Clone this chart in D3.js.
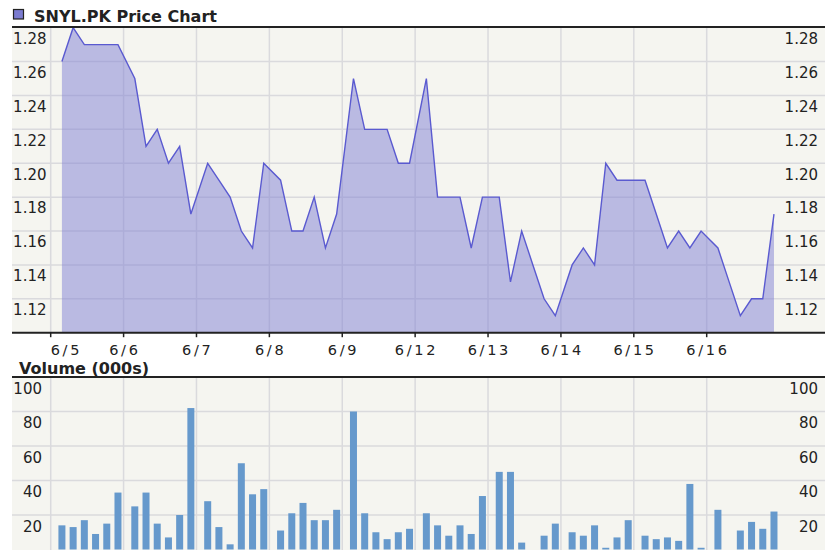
<!DOCTYPE html>
<html>
<head>
<meta charset="utf-8">
<script src="https://cdn.jsdelivr.net/npm/d3@7"></script>
<style>
  html, body { margin: 0; padding: 0; background: #fff; }
  svg { display: block; }
  .tick-label { font-family: "DejaVu Sans", Verdana, sans-serif; font-size: 15px; fill: #222; }
  .date-label { font-family: "DejaVu Sans", Verdana, sans-serif; font-size: 14.5px; fill: #222; letter-spacing: 2.7px; }
  .panel-title { font-family: "DejaVu Sans", Verdana, sans-serif; font-size: 16px; font-weight: bold; fill: #222; }
</style>
</head>
<body>
<div id="chart"></div>
<script>
// trading days shown on the x axis
const dates = ['6/5', '6/6', '6/7', '6/8', '6/9', '6/12', '6/13', '6/14', '6/15', '6/16'];
// hourly sample times within each session (session runs 9:30 - 16:00)
const hours = [10.5, 11.5, 12.5, 13.5, 14.5, 15.5];

// hourly closing prices, 6 per day
const prices = [
  1.26, 1.28, 1.27, 1.27, 1.27, 1.27,   // 6/5
  1.25, 1.21, 1.22, 1.20, 1.21, 1.17,   // 6/6
  1.20, 1.19, 1.18, 1.16, 1.15, 1.20,   // 6/7
  1.19, 1.16, 1.16, 1.18, 1.15, 1.17,   // 6/8
  1.25, 1.22, 1.22, 1.22, 1.20, 1.20,   // 6/9
  1.25, 1.18, 1.18, 1.18, 1.15, 1.18,   // 6/12
  1.18, 1.13, 1.16, 1.14, 1.12, 1.11,   // 6/13
  1.14, 1.15, 1.14, 1.20, 1.19, 1.19,   // 6/14
  1.19, 1.17, 1.15, 1.16, 1.15, 1.16,   // 6/15
  1.15, 1.13, 1.11, 1.12, 1.12, 1.17    // 6/16
];

// hourly volume, thousands of shares
const volumes = [
  14, 13, 17, 9, 15, 33,
  25, 33, 15, 7, 20, 82,
  28, 13, 3, 50, 32, 35,
  11, 21, 27, 17, 17, 23,
  80, 21, 10, 6, 10, 12,
  21, 14, 8, 14, 9, 31,
  45, 45, 4, 0, 8, 15,
  10, 8, 14, 1, 7, 17,
  8, 6, 7, 5, 38, 1,
  23, 0, 11, 16, 12, 22
];

const priceTicks = [1.12, 1.14, 1.16, 1.18, 1.20, 1.22, 1.24, 1.26, 1.28];
const volumeTicks = [20, 40, 60, 80, 100];

const W = 825, H = 550;
const sessionLen = 6.5;

// build point list: t = trading hours since first open
const points = prices.map((p, i) => {
  const day = Math.floor(i / hours.length);
  const h = hours[i % hours.length];
  return { t: day * sessionLen + (h - 9.5), price: p, volume: volumes[i] };
});

const svg = d3.select('#chart').append('svg')
  .attr('width', W).attr('height', H);

const left = 12, right = W;
const x = d3.scaleLinear()
  .domain([0, (dates.length - 1) * sessionLen])
  .range([50.7, 706.7]);

const yP = d3.scaleLinear().domain([1.10, 1.28]).range([332.7, 27.7]);
const yV = d3.scaleLinear().domain([0, 100]).range([549.5, 377]);

const gridColor = '#dadadd';
const bgColor = '#f5f5f0';

// ---------- price panel ----------
const pTop = yP(1.28), pBot = yP(1.10);
svg.append('rect').attr('x', left).attr('y', pTop).attr('width', right - left).attr('height', pBot - pTop)
  .attr('fill', bgColor);

svg.append('g').selectAll('line').data(priceTicks.slice(0, -1)).join('line')
  .attr('x1', left).attr('x2', right)
  .attr('y1', d => yP(d)).attr('y2', d => yP(d))
  .attr('stroke', gridColor).attr('stroke-width', 1.5);

svg.append('g').selectAll('line').data(dates).join('line')
  .attr('x1', (d, i) => x(i * sessionLen)).attr('x2', (d, i) => x(i * sessionLen))
  .attr('y1', pTop).attr('y2', pBot)
  .attr('stroke', gridColor).attr('stroke-width', 1.5);

const area = d3.area().x(d => x(d.t)).y0(pBot).y1(d => yP(d.price));
const line = d3.line().x(d => x(d.t)).y(d => yP(d.price));

svg.append('path').datum(points).attr('d', area)
  .attr('fill', '#7f7fd4').attr('fill-opacity', 0.5);
svg.append('path').datum(points).attr('d', line)
  .attr('fill', 'none').attr('stroke', '#5a5ad0').attr('stroke-width', 1.4);

// price labels, both sides, drawn just under each grid line
const pLabels = svg.append('g');
pLabels.selectAll('text.l').data(priceTicks).join('text')
  .attr('class', 'tick-label l')
  .attr('x', 46.5).attr('y', d => yP(d) + 16.3)
  .attr('text-anchor', 'end')
  .text(d => d.toFixed(2));
pLabels.selectAll('text.r').data(priceTicks).join('text')
  .attr('class', 'tick-label r')
  .attr('x', 818).attr('y', d => yP(d) + 16.3)
  .attr('text-anchor', 'end')
  .text(d => d.toFixed(2));

// frame lines
svg.append('line').attr('x1', left).attr('x2', right).attr('y1', pTop - 0.8).attr('y2', pTop - 0.8)
  .attr('stroke', '#222').attr('stroke-width', 2);
svg.append('line').attr('x1', left).attr('x2', right).attr('y1', pBot).attr('y2', pBot)
  .attr('stroke', '#222').attr('stroke-width', 2);

svg.append('g').selectAll('line').data(dates).join('line')
  .attr('x1', (d, i) => x(i * sessionLen)).attr('x2', (d, i) => x(i * sessionLen))
  .attr('y1', pBot).attr('y2', pBot + 4.5)
  .attr('stroke', '#222').attr('stroke-width', 1.5);

// date labels
svg.append('g').selectAll('text').data(dates).join('text')
  .attr('class', 'date-label')
  .attr('x', (d, i) => i === 0 ? x(0) : x(i * sessionLen) + 1.3)
  .attr('y', 355)
  .attr('text-anchor', (d, i) => i === 0 ? 'start' : 'middle')
  .text(d => d);

// title
svg.append('rect').attr('x', 13.5).attr('y', 9.5).attr('width', 10).attr('height', 9.5)
  .attr('fill', '#7b7bd0').attr('stroke', '#222').attr('stroke-width', 1.2);
svg.append('text').attr('class', 'panel-title').attr('x', 34).attr('y', 22)
  .text('SNYL.PK Price Chart');

// ---------- volume panel ----------
const vTop = yV(100), vBot = H;
svg.append('rect').attr('x', left).attr('y', vTop).attr('width', right - left).attr('height', vBot - vTop)
  .attr('fill', bgColor);

svg.append('g').selectAll('line').data(volumeTicks.slice(0, -1)).join('line')
  .attr('x1', left).attr('x2', right)
  .attr('y1', d => yV(d)).attr('y2', d => yV(d))
  .attr('stroke', gridColor).attr('stroke-width', 1.5);

svg.append('g').selectAll('line').data(dates).join('line')
  .attr('x1', (d, i) => x(i * sessionLen)).attr('x2', (d, i) => x(i * sessionLen))
  .attr('y1', vTop).attr('y2', vBot)
  .attr('stroke', gridColor).attr('stroke-width', 1.5);

const barW = 7;
svg.append('g').selectAll('rect').data(points.filter(d => d.volume > 0)).join('rect')
  .attr('x', d => x(d.t) - barW / 2)
  .attr('y', d => yV(d.volume))
  .attr('width', barW)
  .attr('height', d => yV(0) - yV(d.volume))
  .attr('fill', '#6699cc');

const vLabels = svg.append('g');
vLabels.selectAll('text.l').data(volumeTicks).join('text')
  .attr('class', 'tick-label l')
  .attr('x', 42).attr('y', d => yV(d) + 16.8)
  .attr('text-anchor', 'end')
  .text(d => d);
vLabels.selectAll('text.r').data(volumeTicks).join('text')
  .attr('class', 'tick-label r')
  .attr('x', 818).attr('y', d => yV(d) + 16.8)
  .attr('text-anchor', 'end')
  .text(d => d);

svg.append('line').attr('x1', left).attr('x2', right).attr('y1', vTop).attr('y2', vTop)
  .attr('stroke', '#222').attr('stroke-width', 2);

svg.append('text').attr('class', 'panel-title').attr('x', 19).attr('y', 374)
  .text('Volume (000s)');
</script>
</body>
</html>
